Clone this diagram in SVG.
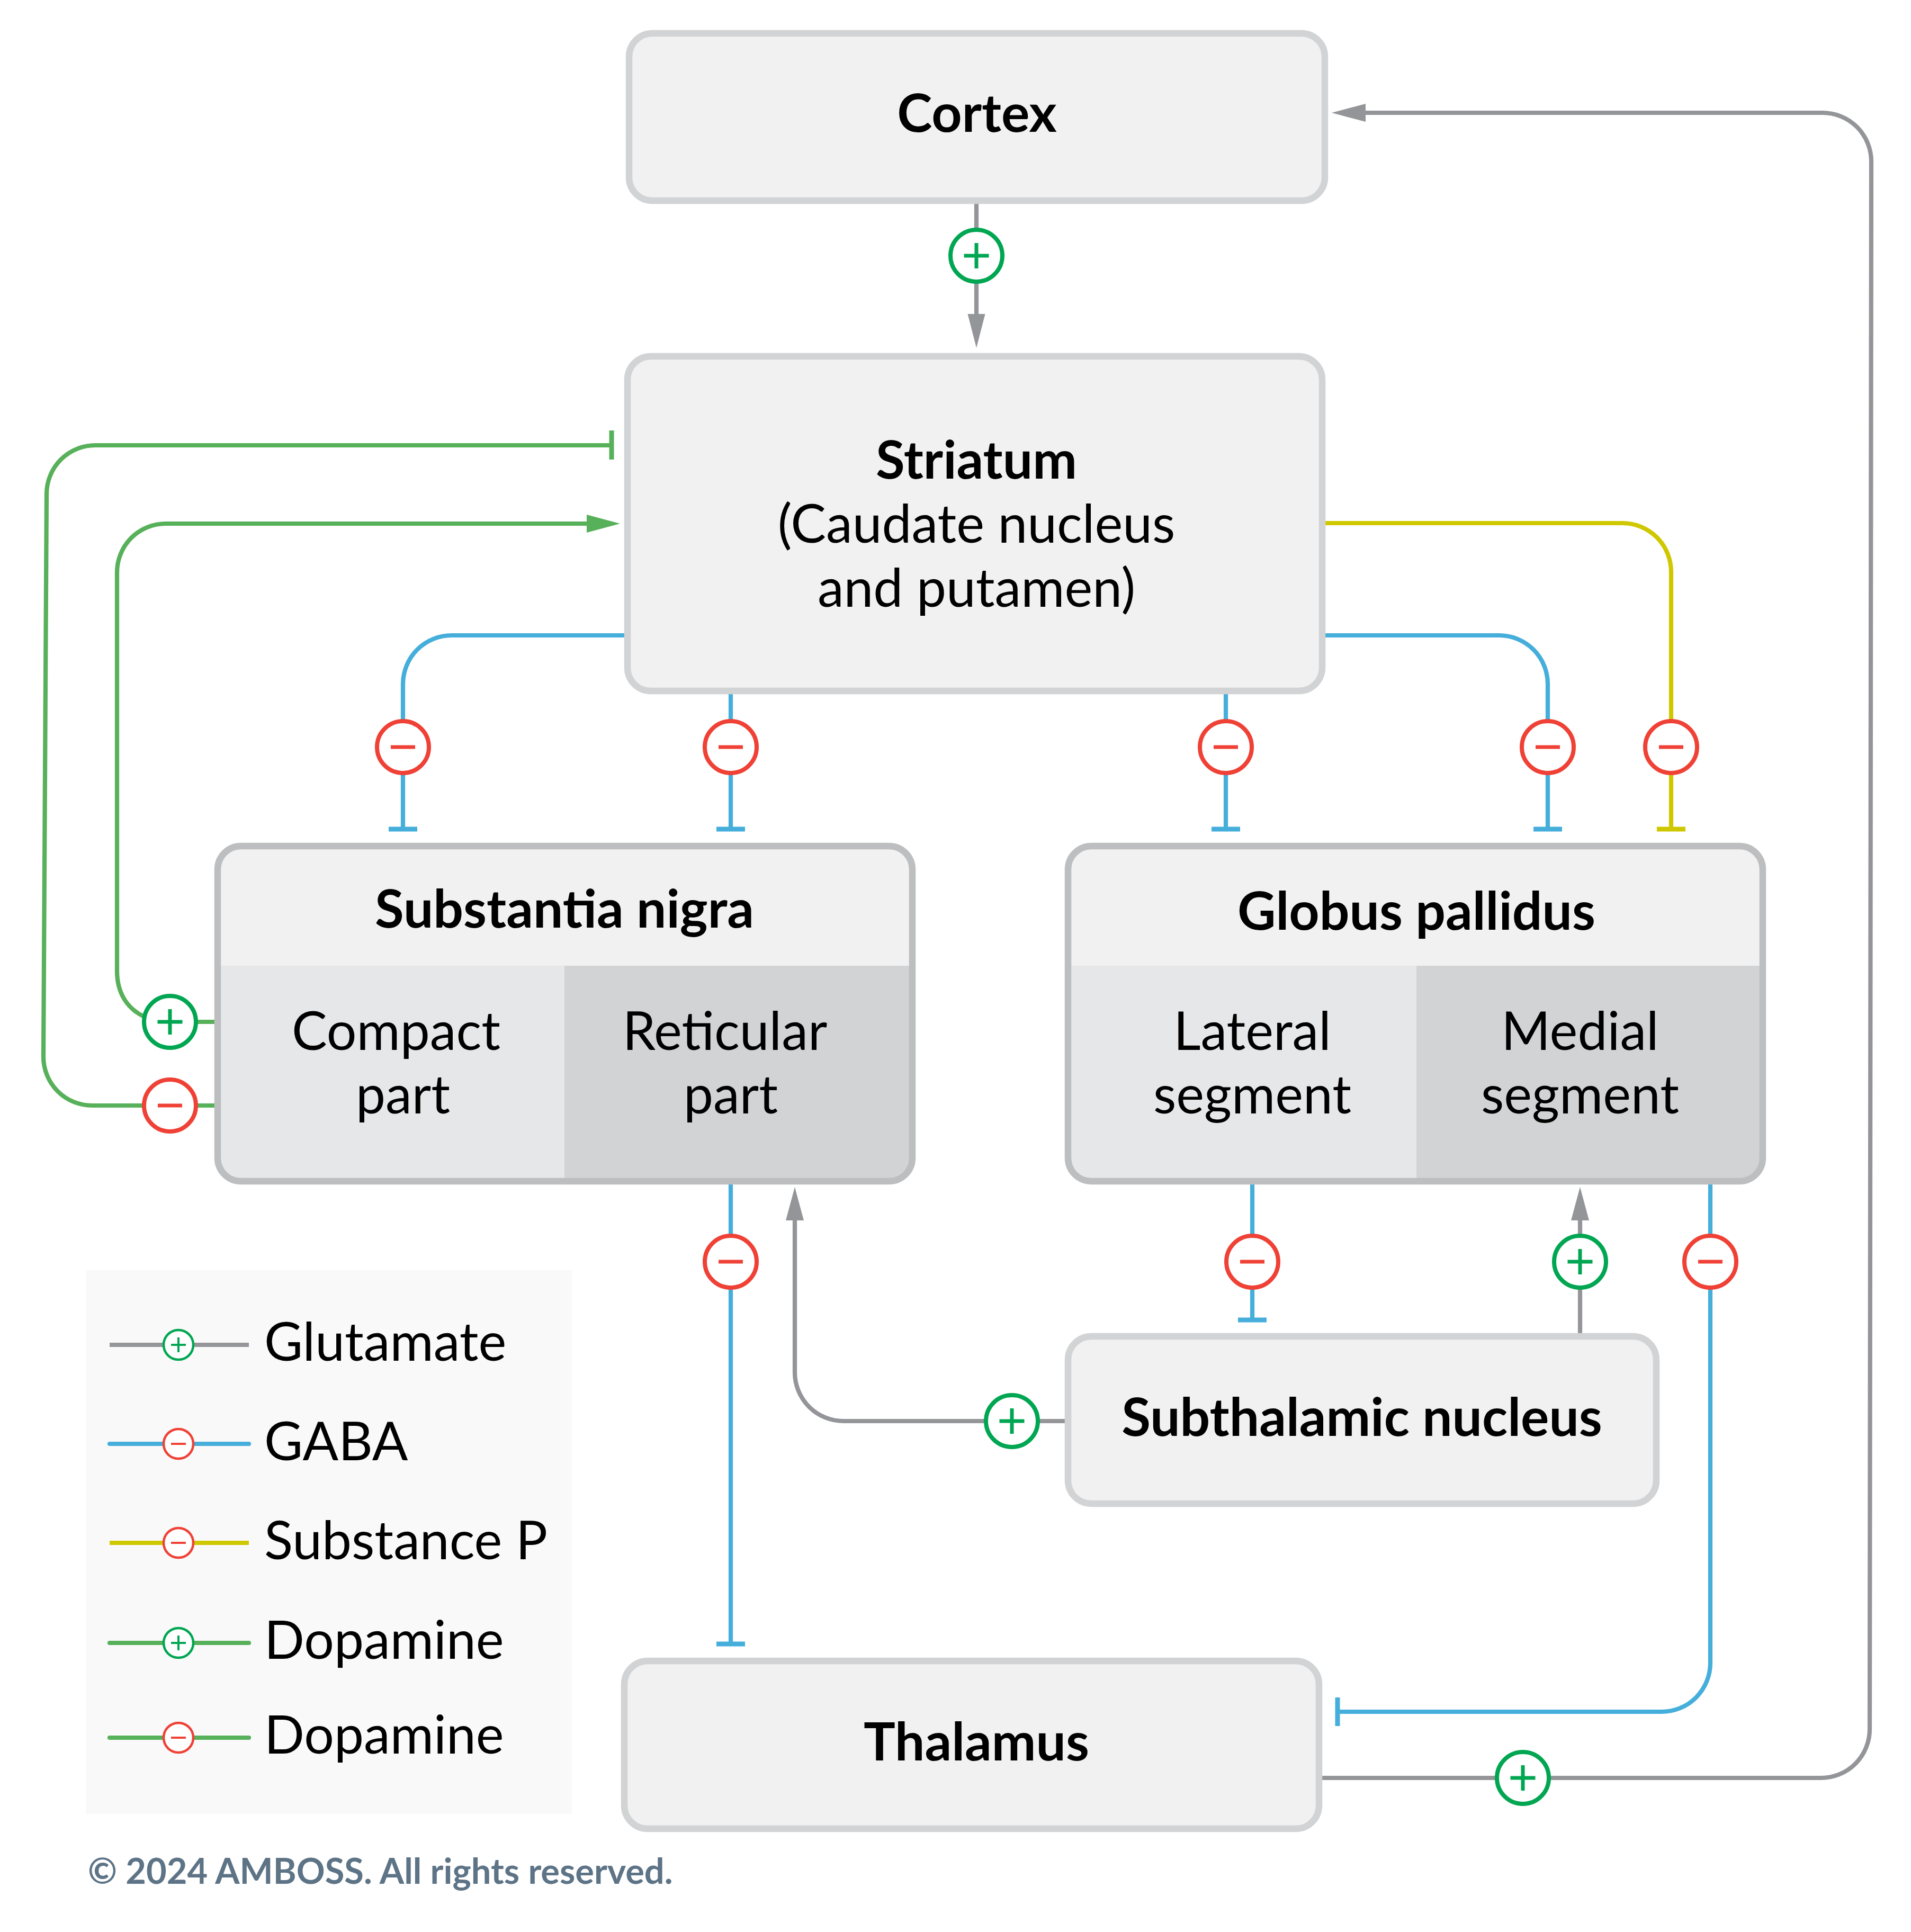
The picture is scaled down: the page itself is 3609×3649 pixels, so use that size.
<svg xmlns="http://www.w3.org/2000/svg" width="3609" height="3649" viewBox="0 0 3609 3649">
<style>
text{font-family:"Lato","Carlito","Liberation Sans",sans-serif;fill:#000;font-size:100px;text-anchor:middle}
.b{font-weight:700}
.l{text-anchor:start}
.box{fill:#f1f1f2;stroke:#d1d3d4;stroke-width:12.5}
.box2{fill:none;stroke:#bcbec0;stroke-width:12.5}
.c{fill:none;stroke-width:8.2}
.t{fill:none;stroke-width:9}
.gy{stroke:#939598}.bl{stroke:#45aedb}.ye{stroke:#cfc800}.gr{stroke:#57b05a}
.bp{fill:#fff;stroke:#00a651;stroke-width:8}
.bm{fill:#fff;stroke:#ef4136;stroke-width:8}
.sp{stroke:#00a651;stroke-width:7;fill:none}
.sm{stroke:#ef4136;stroke-width:7;fill:none}
.lp{fill:#fff;stroke:#00a651;stroke-width:4.5}
.lm{fill:#fff;stroke:#ef4136;stroke-width:4.5}
.lsp{stroke:#00a651;stroke-width:4;fill:none}
.lsm{stroke:#ef4136;stroke-width:4;fill:none}
</style>
<defs>
<g id="plus"><circle class="bp" r="49"/><path class="sp" d="M-23.5 0H23.5M0-24V24"/></g>
<g id="minus"><circle class="bm" r="49"/><path class="sm" d="M-23 0H23"/></g>
<g id="lplus"><circle class="lp" r="28"/><path class="lsp" d="M-14 0H14M0-14V14"/></g>
<g id="lminus"><circle class="lm" r="28"/><path class="lsm" d="M-14 0H14"/></g>
</defs>
<rect width="3609" height="3649" fill="#fff"/>

<g id="connectors">
<path class="c gy" d="M1844 380V600"/><path d="M1827.500 593H1860.500L1844 657Z" fill="#939598"/>
<path class="c gy" d="M2497 3358H3439A92 92 0 0 0 3531 3266L3534 305A92 92 0 0 0 3442 213H2570"/><path d="M2515 213L2579 196V230Z" fill="#939598"/>
<path class="c gr" d="M1155 841H180A92 92 0 0 0 88 933L82 1996A92 92 0 0 0 174 2088H405"/><path class="t gr" d="M1155 813V868"/>
<path class="c gr" d="M1110 989H313A92 92 0 0 0 221 1081V1834C221 1875 240 1905 272 1920"/><path d="M1171 989L1108 972V1006Z" fill="#57b05a"/><path class="c gr" d="M321 1930H405"/>
<path class="c bl" d="M1183 1200H853A92 92 0 0 0 761 1292V1566"/><path class="t bl" d="M734 1566H788"/>
<path class="c bl" d="M1380 1311V1566"/><path class="t bl" d="M1353 1566H1407"/>
<path class="c bl" d="M2315 1311V1566"/><path class="t bl" d="M2288 1566H2342"/>
<path class="c bl" d="M2503 1200H2831A92 92 0 0 1 2923 1292V1566"/><path class="t bl" d="M2896 1566H2950"/>
<path class="c ye" d="M2503 988H3064A92 92 0 0 1 3156 1080V1566"/><path class="t ye" d="M3129 1566H3183"/>
<path class="c bl" d="M1380 2237V3105"/><path class="t bl" d="M1353 3105H1407"/>
<path class="c gy" d="M2016 2684H1593A92 92 0 0 1 1501 2592V2290"/><path d="M1501 2242L1484 2305H1518Z" fill="#939598"/>
<path class="c bl" d="M2365 2237V2493"/><path class="t bl" d="M2338 2493H2392"/>
<path class="c gy" d="M2984 2524V2290"/><path d="M2984 2242L2967 2305H3001Z" fill="#939598"/>
<path class="c bl" d="M3230 2237V3141A92 92 0 0 1 3138 3233H2526"/><path class="t bl" d="M2526 3206V3260"/>
<use href="#plus" x="1844" y="483"/>
<use href="#plus" x="2876" y="3358"/>
<use href="#plus" x="321" y="1930"/>
<use href="#minus" x="321" y="2088"/>
<use href="#minus" x="761" y="1411"/>
<use href="#minus" x="1380" y="1411"/>
<use href="#minus" x="2315" y="1411"/>
<use href="#minus" x="2923" y="1411"/>
<use href="#minus" x="3156" y="1411"/>
<use href="#minus" x="1380" y="2383"/>
<use href="#plus" x="1911" y="2684"/>
<use href="#minus" x="2365" y="2383"/>
<use href="#plus" x="2984" y="2383"/>
<use href="#minus" x="3230" y="2383"/>
</g>

<g id="cortex"><rect class="box" x="1188" y="63" width="1314" height="316" rx="44"/><text class="b" x="1845" y="249">Cortex</text></g>
<g id="striatum"><rect class="box" x="1185" y="673" width="1312" height="632" rx="44"/><text class="b" x="1844" y="904">Striatum</text><text x="1844" y="1025">(Caudate nucleus</text><text x="1844" y="1146">and putamen)</text></g>
<g id="substantia-nigra">
<rect x="411" y="1598" width="1312" height="633" rx="44" fill="#f1f1f2"/>
<path d="M411 1824H1066V2231H455Q411 2231 411 2187Z" fill="#e6e7e8"/>
<path d="M1066 1824H1723V2187Q1723 2231 1679 2231H1066Z" fill="#d1d3d4"/>
<rect class="box2" x="411" y="1598" width="1312" height="633" rx="44"/>
<text class="b" x="1066" y="1752">Substantia nigra</text><text x="748" y="1983">Compact</text><text x="761" y="2103">part</text><text x="1369" y="1983">Reticular</text><text x="1380" y="2103">part</text></g>
<g id="globus-pallidus">
<rect x="2017" y="1598" width="1312" height="633" rx="44" fill="#f1f1f2"/>
<path d="M2017 1824H2675V2231H2061Q2017 2231 2017 2187Z" fill="#e6e7e8"/>
<path d="M2675 1824H3329V2187Q3329 2231 3285 2231H2675Z" fill="#d1d3d4"/>
<rect class="box2" x="2017" y="1598" width="1312" height="633" rx="44"/>
<text class="b" x="2675" y="1756">Globus pallidus</text><text x="2365" y="1983">Lateral</text><text x="2365" y="2103">segment</text><text x="2984" y="1983">Medial</text><text x="2984" y="2103">segment</text></g>
<g id="subthalamic-nucleus"><rect class="box" x="2017" y="2524" width="1111" height="316" rx="44"/><text class="b" x="2572" y="2712">Subthalamic nucleus</text></g>
<g id="thalamus"><rect class="box" x="1179" y="3137" width="1312" height="317" rx="44"/><text class="b" x="1844" y="3325">Thalamus</text></g>

<g id="legend">
<rect x="162" y="2399" width="918" height="1027" fill="#f9f9f9"/>
<path class="c gy" d="M207 2540H470"/><path class="c bl" d="M207 2727H470" stroke-linecap="round"/><path class="c ye" d="M207 2914H470"/><path class="c gr" d="M207 3103H470" stroke-linecap="round"/><path class="c gr" d="M207 3282H470" stroke-linecap="round"/>
<use href="#lplus" x="337" y="2540"/><use href="#lminus" x="337" y="2727"/><use href="#lminus" x="337" y="2914"/><use href="#lplus" x="337" y="3103"/><use href="#lminus" x="337" y="3282"/>
<text class="l" x="499" y="2570">Glutamate</text><text class="l" x="499" y="2758">GABA</text><text class="l" x="499" y="2945">Substance P</text><text class="l" x="499" y="3133">Dopamine</text><text class="l" x="499" y="3312">Dopamine</text>
</g>
<text id="copyright" class="b l" x="166" y="3558" style="font-size:66.800px;fill:#5d7386">© 2024 AMBOSS. All rights reserved.</text>
</svg>
